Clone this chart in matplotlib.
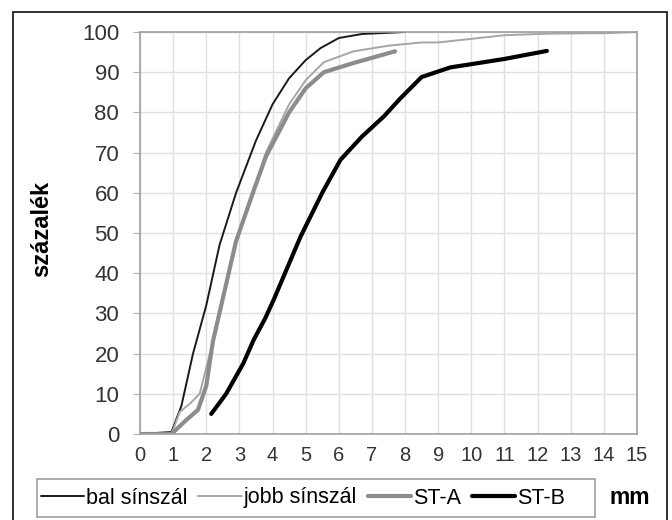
import matplotlib
matplotlib.use("Agg")
import matplotlib.pyplot as plt
from matplotlib.patches import Rectangle
from matplotlib import font_manager

# ---- data ----
bal_x = [0, 0.95, 1.25, 1.6, 2.0, 2.4, 2.9, 3.5, 4.0, 4.5, 5.0, 5.45, 6.0, 6.7, 8.0]
bal_y = [0, 0.5, 7, 20, 32, 47, 60, 73, 82, 88.5, 93, 96, 98.5, 99.5, 100]

jobb_x = [0, 0.95, 1.2, 1.5, 1.8, 2.2, 2.9, 3.45, 3.8, 4.5, 5.0, 5.55, 6.45, 7.5, 8.5, 9.0, 11.0, 12.4, 14.0, 15.0]
jobb_y = [0, 0, 5.5, 7.5, 10, 23, 48, 61, 70, 82, 88, 92.5, 95.2, 96.6, 97.4, 97.4, 99.2, 99.6, 99.7, 100]

sta_x = [0, 0.95, 1.4, 1.75, 2.0, 2.2, 2.9, 3.45, 3.8, 4.5, 5.0, 5.55, 6.45, 7.7]
sta_y = [0, 0, 3.5, 6, 12, 23, 48, 61, 69, 80, 86, 90, 92.3, 95.2]

stb_x = [2.15, 2.6, 3.12, 3.43, 3.78, 4.03, 4.84, 5.5, 6.05, 6.7, 7.36, 7.86, 8.5, 9.37, 10.0, 11.0, 12.28]
stb_y = [5, 10, 17.6, 23.4, 28.8, 33.3, 49, 60, 68.2, 74, 79, 83.5, 88.8, 91.2, 92, 93.3, 95.3]

series_names = ["bal sínszál", "jobb sínszál", "ST-A", "ST-B"]
x_ticks = list(range(0, 16))
y_ticks = list(range(0, 101, 10))

# ---- fonts ----
avail = {f.name for f in font_manager.fontManager.ttflist}
base_font = "Liberation Sans" if "Liberation Sans" in avail else "DejaVu Sans"
plt.rcParams["font.family"] = [base_font, "DejaVu Sans"]

W, H = 672, 520
fig = plt.figure(figsize=(W / 100, H / 100), dpi=100)
fig.patch.set_facecolor("white")

ax = fig.add_axes([140 / W, 1 - 434 / H, (637 - 140) / W, (434 - 32) / H])

ax.plot(bal_x, bal_y, color="#1a1a1a", lw=1.4, label=series_names[0], solid_capstyle="round")
ax.plot(jobb_x, jobb_y, color="#a6a6a6", lw=1.4, label=series_names[1], solid_capstyle="round")
ax.plot(sta_x, sta_y, color="#8c8c8c", lw=3.0, label=series_names[2], solid_capstyle="round")
ax.plot(stb_x, stb_y, color="#000000", lw=3.0, label=series_names[3], solid_capstyle="round")

ax.set_xlim(0, 15)
ax.set_ylim(0, 100)
ax.set_xticks(x_ticks)
ax.set_yticks(y_ticks)
ax.set_xticklabels([str(v) for v in x_ticks], fontsize=14.5, color="#333333")
ax.set_yticklabels([str(v) for v in y_ticks], fontsize=16, color="#333333")
ax.grid(True, color="#e0e0e0", lw=1.0)
ax.set_axisbelow(True)
for s in ax.spines.values():
    s.set_color("#a0a0a0")
    s.set_linewidth(1.2)
ax.tick_params(axis="y", length=5, color="#b0b0b0", pad=10)
ax.tick_params(axis="x", length=0, pad=8.5)

fig.text(42 / W, 1 - 229 / H, "százalék", rotation=90, fontsize=17, fontweight="bold",
         ha="center", va="center", color="black")
fig.text(630 / W, 1 - 497 / H, "mm", fontsize=16.5, fontweight="bold",
         ha="center", va="center", color="black")

# legend frame drawn separately to match its wider box
fig.patches.append(Rectangle((37 / W, 1 - 517 / H), (595 - 37) / W, (517 - 479) / H,
                             transform=fig.transFigure, fill=False, edgecolor="#a0a0a0", lw=1.2))
leg = fig.legend(loc="center left", bbox_to_anchor=(41 / W, 1 - 498 / H), ncol=4,
                 frameon=False, fontsize=15.5,
                 handlelength=2.0, handletextpad=0.1, columnspacing=0.5,
                 borderpad=0.0, borderaxespad=0)

fig.patches.append(Rectangle((12.7 / W, -0.02), (667 - 12.7) / W, 1.02 - 11.7 / H,
                             transform=fig.transFigure, fill=False, edgecolor="#222222", lw=1.3))

fig.savefig("out.png", dpi=100)
